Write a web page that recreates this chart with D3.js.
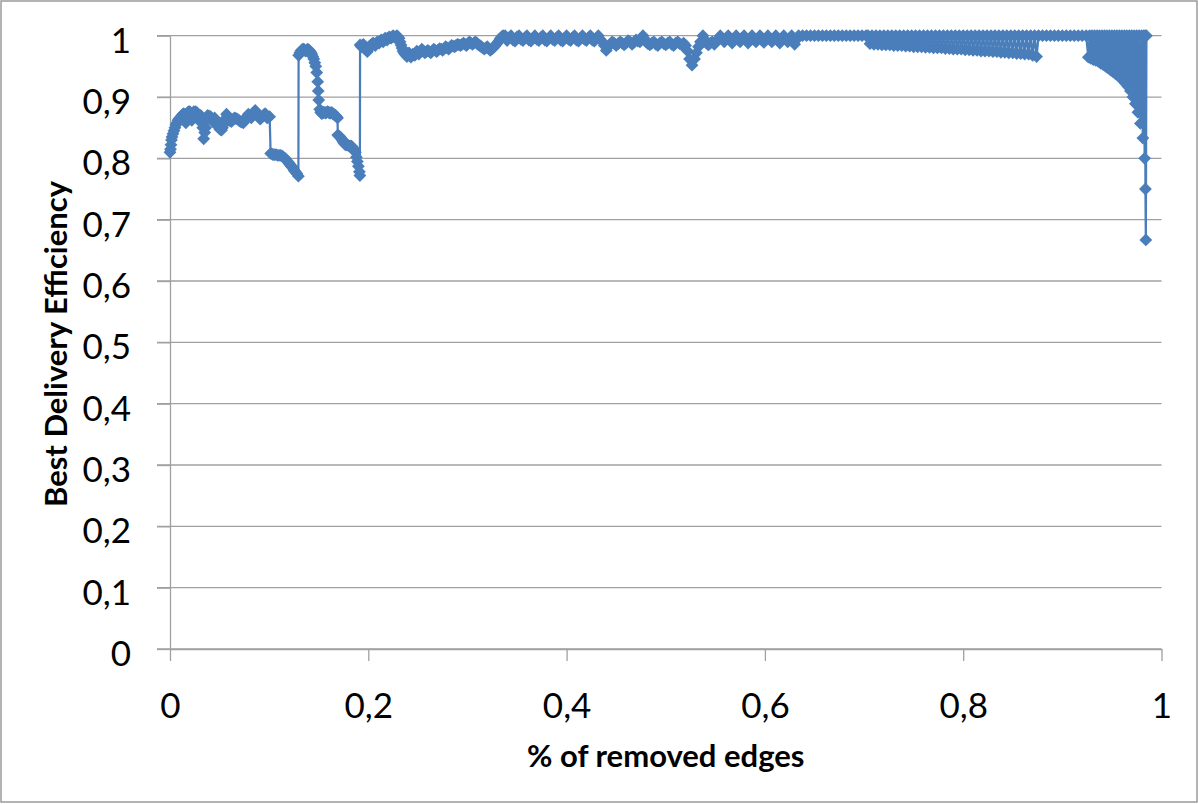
<!DOCTYPE html>
<html>
<head>
<meta charset="utf-8">
<script src="https://cdn.jsdelivr.net/npm/d3@7"></script>
<style>
  body { margin: 0; background: #fff; }
  svg { display: block; font-family: Lato, "Open Sans", sans-serif; }
</style>
</head>
<body>
<svg id="chart" width="1198" height="804"></svg>
<script>
// series, [share of removed edges, best delivery efficiency]
var rampStart = [
  [0, 0.81], [0.0005, 0.815], [0.001, 0.822], [0.0015, 0.83], [0.002, 0.835], [0.003, 0.84],
  [0.004, 0.845], [0.005, 0.85], [0.006, 0.855], [0.007, 0.858], [0.008, 0.862], [0.009, 0.864],
  [0.01, 0.866], [0.011, 0.868], [0.012, 0.87], [0.013, 0.872], [0.014, 0.873], [0.015, 0.865],
  [0.016, 0.858], [0.017, 0.868], [0.018, 0.875], [0.019, 0.876], [0.02, 0.876], [0.021, 0.87],
  [0.022, 0.862], [0.023, 0.87], [0.024, 0.876], [0.0255, 0.876], [0.027, 0.875], [0.028, 0.868],
  [0.029, 0.862], [0.03, 0.866], [0.031, 0.87], [0.032, 0.86], [0.033, 0.85], [0.034, 0.832],
  [0.035, 0.842], [0.036, 0.85], [0.037, 0.862], [0.038, 0.87], [0.0395, 0.869], [0.041, 0.868],
  [0.042, 0.864], [0.043, 0.86], [0.044, 0.863], [0.045, 0.866], [0.0465, 0.86], [0.048, 0.855],
  [0.049, 0.851], [0.05, 0.848], [0.051, 0.847], [0.052, 0.846], [0.053, 0.85], [0.054, 0.855],
  [0.0555, 0.864], [0.057, 0.872], [0.0585, 0.867], [0.06, 0.862], [0.061, 0.861], [0.062, 0.86],
  [0.0635, 0.863], [0.065, 0.866], [0.0665, 0.865], [0.068, 0.864], [0.0695, 0.862], [0.071, 0.86],
  [0.0725, 0.859], [0.074, 0.858], [0.0755, 0.862], [0.077, 0.865], [0.078, 0.869], [0.079, 0.872],
  [0.0805, 0.869], [0.082, 0.866], [0.083, 0.87], [0.084, 0.874], [0.085, 0.876], [0.086, 0.878],
  [0.087, 0.874], [0.088, 0.87], [0.0895, 0.867], [0.091, 0.864], [0.092, 0.866], [0.093, 0.868],
  [0.0945, 0.871], [0.096, 0.873], [0.097, 0.87], [0.098, 0.866], [0.099, 0.867], [0.1005, 0.868]
];
var lowStep = [
  [0.1015, 0.808], [0.103, 0.807], [0.104, 0.806], [0.1055, 0.806], [0.107, 0.806], [0.1085, 0.805],
  [0.11, 0.805], [0.1115, 0.805], [0.113, 0.804], [0.1145, 0.802], [0.116, 0.8], [0.117, 0.798],
  [0.118, 0.796], [0.119, 0.794], [0.12, 0.792], [0.121, 0.79], [0.122, 0.788], [0.123, 0.786],
  [0.124, 0.784], [0.125, 0.781], [0.126, 0.779], [0.127, 0.777], [0.128, 0.775], [0.1295, 0.771]
];
var spikeBlock = [
  [0.1297, 0.968], [0.131, 0.972], [0.132, 0.975], [0.133, 0.977], [0.134, 0.978], [0.135, 0.978],
  [0.136, 0.976], [0.137, 0.975], [0.138, 0.977], [0.139, 0.978], [0.14, 0.977], [0.141, 0.975],
  [0.142, 0.973], [0.143, 0.97], [0.144, 0.966], [0.145, 0.962], [0.146, 0.956], [0.147, 0.95],
  [0.148, 0.94], [0.149, 0.925], [0.1495, 0.91], [0.15, 0.895], [0.151, 0.88], [0.152, 0.875],
  [0.153, 0.873], [0.154, 0.874], [0.155, 0.875], [0.156, 0.875], [0.157, 0.874], [0.158, 0.875],
  [0.159, 0.876], [0.16, 0.875], [0.161, 0.874], [0.162, 0.874], [0.163, 0.875], [0.164, 0.873],
  [0.165, 0.872], [0.166, 0.871], [0.167, 0.87], [0.168, 0.868], [0.169, 0.866], [0.1692, 0.838],
  [0.17, 0.837], [0.171, 0.836], [0.172, 0.834], [0.173, 0.832], [0.174, 0.829], [0.175, 0.826],
  [0.176, 0.824], [0.177, 0.822], [0.178, 0.822], [0.179, 0.822], [0.18, 0.821], [0.181, 0.82],
  [0.182, 0.82], [0.183, 0.82], [0.184, 0.818], [0.185, 0.816], [0.186, 0.813], [0.187, 0.81],
  [0.188, 0.802], [0.189, 0.795], [0.19, 0.787], [0.191, 0.778], [0.1915, 0.772]
];
var climb = [
  [0.1917, 0.985], [0.193, 0.982], [0.194, 0.984], [0.195, 0.986], [0.196, 0.983], [0.197, 0.98],
  [0.198, 0.977], [0.199, 0.974], [0.2, 0.978], [0.201, 0.982], [0.202, 0.984], [0.203, 0.985],
  [0.204, 0.987], [0.205, 0.988], [0.206, 0.986], [0.207, 0.984], [0.208, 0.987], [0.209, 0.99],
  [0.21, 0.989], [0.211, 0.988], [0.212, 0.991], [0.213, 0.993], [0.214, 0.992], [0.215, 0.99],
  [0.216, 0.993], [0.217, 0.996], [0.218, 0.995], [0.219, 0.993], [0.22, 0.996], [0.221, 0.998],
  [0.222, 0.997], [0.223, 0.996], [0.224, 0.998], [0.225, 1], [0.226, 0.998], [0.227, 0.997],
  [0.228, 0.999], [0.229, 1], [0.23, 0.998], [0.231, 0.996], [0.232, 0.99], [0.233, 0.985],
  [0.234, 0.98], [0.235, 0.975], [0.236, 0.972], [0.237, 0.97], [0.238, 0.968], [0.239, 0.966],
  [0.24, 0.969], [0.241, 0.972], [0.242, 0.968], [0.243, 0.965], [0.244, 0.968], [0.245, 0.97],
  [0.246, 0.969], [0.247, 0.968], [0.248, 0.972], [0.249, 0.975], [0.25, 0.972], [0.251, 0.97],
  [0.2525, 0.974], [0.254, 0.978], [0.2555, 0.975], [0.257, 0.972], [0.2585, 0.974], [0.26, 0.976],
  [0.2615, 0.974], [0.263, 0.972], [0.2645, 0.975], [0.266, 0.978], [0.2675, 0.976], [0.269, 0.974],
  [0.2705, 0.977], [0.272, 0.979], [0.2735, 0.978], [0.275, 0.976], [0.2765, 0.979], [0.278, 0.982],
  [0.2795, 0.98], [0.281, 0.978], [0.2825, 0.981], [0.284, 0.984], [0.2855, 0.983], [0.287, 0.982],
  [0.2885, 0.984], [0.29, 0.986], [0.2915, 0.985], [0.293, 0.984], [0.2945, 0.986], [0.296, 0.988],
  [0.2975, 0.986], [0.299, 0.984], [0.3005, 0.987], [0.302, 0.99], [0.3035, 0.988], [0.305, 0.986],
  [0.3065, 0.988], [0.308, 0.99], [0.3095, 0.988], [0.311, 0.985], [0.3125, 0.984], [0.314, 0.982],
  [0.3155, 0.98], [0.317, 0.978], [0.3185, 0.98], [0.32, 0.982], [0.3215, 0.979], [0.323, 0.976],
  [0.3245, 0.978], [0.326, 0.98], [0.3275, 0.983], [0.329, 0.986], [0.3305, 0.989], [0.332, 0.992],
  [0.333, 0.995], [0.334, 0.997], [0.335, 0.999], [0.336, 1]
];
var topA = [
  [0.338, 1], [0.34, 0.992], [0.342, 0.997], [0.344, 1], [0.346, 0.993], [0.348, 0.991],
  [0.35, 0.998], [0.352, 1], [0.354, 0.994], [0.356, 0.992], [0.358, 0.997], [0.36, 1],
  [0.362, 0.993], [0.364, 0.991], [0.366, 0.996], [0.368, 1], [0.37, 0.994], [0.372, 0.992],
  [0.374, 0.997], [0.376, 1], [0.378, 0.993], [0.38, 0.991], [0.382, 0.996], [0.384, 1],
  [0.386, 0.994], [0.388, 0.992], [0.39, 0.997], [0.392, 1], [0.394, 0.993], [0.396, 0.991],
  [0.398, 0.996], [0.4, 1], [0.402, 0.994], [0.404, 0.992], [0.406, 0.997], [0.408, 1],
  [0.41, 0.993], [0.412, 0.991], [0.414, 0.996], [0.416, 1], [0.418, 0.994], [0.42, 0.992],
  [0.422, 0.997], [0.424, 1], [0.426, 0.993], [0.428, 0.991], [0.43, 0.996], [0.432, 1],
  [0.434, 0.994], [0.436, 0.99], [0.438, 0.984], [0.44, 0.976]
];
var midBand = [
  [0.442, 0.982], [0.444, 0.986], [0.446, 0.99], [0.448, 0.988], [0.45, 0.984], [0.452, 0.987],
  [0.454, 0.99], [0.456, 0.988], [0.458, 0.985], [0.46, 0.988], [0.462, 0.992], [0.464, 0.99],
  [0.466, 0.986], [0.468, 0.989], [0.47, 0.993], [0.472, 0.991], [0.474, 0.99], [0.476, 0.996],
  [0.477, 1], [0.478, 0.996], [0.48, 0.99], [0.482, 0.987], [0.484, 0.985], [0.486, 0.988],
  [0.488, 0.99], [0.49, 0.986], [0.492, 0.984], [0.494, 0.988], [0.496, 0.99], [0.498, 0.987],
  [0.5, 0.985], [0.502, 0.988], [0.504, 0.99], [0.506, 0.986], [0.508, 0.984], [0.51, 0.988],
  [0.512, 0.99], [0.514, 0.987], [0.516, 0.985], [0.518, 0.988], [0.52, 0.984], [0.522, 0.975],
  [0.524, 0.962], [0.5265, 0.952], [0.529, 0.962], [0.531, 0.972], [0.533, 0.982], [0.535, 0.99],
  [0.5375, 1], [0.539, 0.994], [0.541, 0.988], [0.543, 0.985], [0.545, 0.988], [0.547, 0.99],
  [0.549, 0.986], [0.551, 0.99], [0.553, 0.995], [0.555, 1]
];
var topB = [
  [0.557, 0.995], [0.559, 0.99], [0.561, 0.996], [0.563, 1], [0.565, 0.993], [0.567, 0.988],
  [0.569, 0.995], [0.571, 1], [0.573, 0.994], [0.575, 0.99], [0.577, 0.996], [0.579, 1],
  [0.581, 0.993], [0.583, 0.988], [0.585, 0.995], [0.587, 1], [0.589, 0.994], [0.591, 0.99],
  [0.593, 0.996], [0.595, 1], [0.597, 0.993], [0.599, 0.989], [0.601, 0.995], [0.603, 1],
  [0.605, 0.994], [0.607, 0.99], [0.609, 0.996], [0.611, 1], [0.613, 0.993], [0.615, 0.988],
  [0.617, 0.995], [0.619, 1], [0.621, 0.994], [0.623, 0.99], [0.625, 0.996], [0.627, 1],
  [0.629, 0.992], [0.63, 0.986], [0.632, 0.994], [0.634, 1], [0.638, 1], [0.642, 1],
  [0.646, 1], [0.65, 1], [0.654, 1], [0.658, 1], [0.662, 1], [0.666, 1], [0.67, 1],
  [0.674, 1], [0.678, 1], [0.682, 1], [0.686, 1], [0.69, 1], [0.694, 1], [0.698, 1],
  [0.702, 1], [0.704, 1]
];
var comb = [
  [0.706, 0.987], [0.708, 1], [0.71, 0.986], [0.712, 1], [0.714, 0.986], [0.716, 1],
  [0.718, 0.985], [0.72, 1], [0.722, 0.985], [0.724, 1], [0.726, 0.985], [0.728, 1],
  [0.73, 0.984], [0.732, 1], [0.734, 0.984], [0.736, 1], [0.738, 0.984], [0.74, 1],
  [0.742, 0.983], [0.744, 1], [0.746, 0.983], [0.748, 1], [0.75, 0.982], [0.752, 1],
  [0.754, 0.982], [0.756, 1], [0.758, 0.982], [0.76, 1], [0.762, 0.981], [0.764, 1],
  [0.766, 0.981], [0.768, 1], [0.77, 0.98], [0.772, 1], [0.774, 0.98], [0.776, 1],
  [0.778, 0.98], [0.78, 1], [0.782, 0.979], [0.784, 1], [0.786, 0.979], [0.788, 1],
  [0.79, 0.978], [0.792, 1], [0.794, 0.978], [0.796, 1], [0.798, 0.978], [0.8, 1],
  [0.802, 0.977], [0.804, 1], [0.806, 0.977], [0.808, 1], [0.81, 0.976], [0.812, 1],
  [0.814, 0.976], [0.816, 1], [0.818, 0.975], [0.82, 1], [0.822, 0.975], [0.824, 1],
  [0.826, 0.975], [0.828, 1], [0.83, 0.974], [0.832, 1], [0.834, 0.974], [0.836, 1],
  [0.838, 0.973], [0.84, 1], [0.842, 0.973], [0.844, 1], [0.846, 0.972], [0.848, 1],
  [0.85, 0.972], [0.852, 1], [0.854, 0.971], [0.856, 1], [0.858, 0.971], [0.86, 1],
  [0.862, 0.97], [0.864, 1], [0.866, 0.97], [0.868, 1], [0.87, 0.968], [0.872, 1],
  [0.874, 0.966], [0.876, 1]
];
var topC = [
  [0.88, 1], [0.884, 1], [0.888, 1], [0.892, 1], [0.896, 1], [0.9, 1], [0.904, 1],
  [0.908, 1], [0.912, 1], [0.916, 1], [0.92, 1], [0.924, 1]
];
var tail = [
  [0.9262, 0.965], [0.9275, 1], [0.9287, 0.963], [0.93, 1], [0.9312, 0.961], [0.9325, 1],
  [0.9337, 0.96], [0.935, 1], [0.9362, 0.958], [0.9375, 1], [0.9387, 0.955], [0.94, 1],
  [0.9412, 0.953], [0.9425, 1], [0.9437, 0.95], [0.945, 1], [0.9462, 0.947], [0.9475, 1],
  [0.9487, 0.944], [0.95, 1], [0.9512, 0.941], [0.9525, 1], [0.9537, 0.938], [0.955, 1],
  [0.9562, 0.935], [0.9575, 1], [0.9587, 0.931], [0.96, 1], [0.9612, 0.927], [0.9625, 1],
  [0.9637, 0.922], [0.965, 1], [0.9662, 0.917], [0.9675, 1], [0.9687, 0.91], [0.97, 1],
  [0.9712, 0.9], [0.9725, 1], [0.9737, 0.889], [0.975, 1], [0.9762, 0.875], [0.9775, 1],
  [0.9787, 0.857], [0.98, 1], [0.9812, 0.833], [0.9822, 1], [0.983, 0.8], [0.9835, 1],
  [0.9838, 0.75], [0.9842, 0.667], [0.9848, 1]
];

var xTicks = [0, 0.2, 0.4, 0.6, 0.8, 1];
var yTicks = [0, 0.1, 0.2, 0.3, 0.4, 0.5, 0.6, 0.7, 0.8, 0.9, 1];
var xTitle = "% of removed edges";
var yTitle = "Best Delivery Efficiency";

var points = [].concat(rampStart, lowStep, spikeBlock, climb, topA, midBand, topB, comb, topC, tail);

var plot = { left: 170, right: 1161.5, top: 35.7, bottom: 649 };
var blue = "#4a7ebb", grey = "#a0a0a0";

var x = d3.scaleLinear().domain([0, 1]).range([plot.left, plot.right]);
var y = d3.scaleLinear().domain([0, 1]).range([plot.bottom, plot.top]);

var fmt = d3.formatLocale({ decimal: ",", thousands: ".", grouping: [3], currency: ["", ""] }).format("~g");

var svg = d3.select("#chart");

svg.append("rect")
  .attr("x", 1).attr("y", 1).attr("width", 1196).attr("height", 801)
  .attr("fill", "#fff").attr("stroke", "#9a9a9a").attr("stroke-width", 1.5);

// horizontal gridlines, running out past the axis like the tick marks
svg.append("g")
  .selectAll("line")
  .data(yTicks)
  .enter().append("line")
  .attr("x1", plot.left - 13).attr("x2", plot.right)
  .attr("y1", function (d) { return y(d); })
  .attr("y2", function (d) { return y(d); })
  .attr("stroke", grey).attr("stroke-width", 1.3);

var yAxis = svg.append("g")
  .attr("transform", "translate(" + plot.left + ",0)")
  .call(d3.axisLeft(y).tickValues(yTicks).tickFormat(fmt).tickSizeInner(13).tickSizeOuter(0).tickPadding(26));

var xAxis = svg.append("g")
  .attr("transform", "translate(0," + plot.bottom + ")")
  .call(d3.axisBottom(x).tickValues(xTicks).tickFormat(fmt).tickSizeInner(12).tickSizeOuter(0));

[yAxis, xAxis].forEach(function (a) {
  a.selectAll("path, line").attr("stroke", grey).attr("stroke-width", 1.3);
  a.selectAll("text").attr("fill", "#000").attr("font-size", 35).attr("font-family", "Lato, 'Open Sans', sans-serif");
});
yAxis.selectAll("text").attr("dy", "0.47em");
xAxis.selectAll("text").attr("y", 69).attr("dy", 0);

var line = d3.line()
  .x(function (d) { return x(d[0]); })
  .y(function (d) { return y(d[1]); });

svg.append("path")
  .datum(points)
  .attr("d", line)
  .attr("fill", "none")
  .attr("stroke", blue)
  .attr("stroke-width", 2.25)
  .attr("stroke-linejoin", "round");

var diamond = d3.symbol().type(d3.symbolSquare).size(82);
svg.append("g")
  .selectAll("path")
  .data(points)
  .enter().append("path")
  .attr("d", diamond)
  .attr("transform", function (d) { return "translate(" + x(d[0]) + "," + y(d[1]) + ") rotate(45)"; })
  .attr("fill", blue);

svg.append("text")
  .attr("x", (plot.left + plot.right) / 2)
  .attr("y", 767)
  .attr("text-anchor", "middle")
  .attr("font-size", 31)
  .attr("font-weight", "bold")
  .text(xTitle);

svg.append("text")
  .attr("transform", "translate(67,344) rotate(-90)")
  .attr("text-anchor", "middle")
  .attr("font-size", 31)
  .attr("font-weight", "bold")
  .text(yTitle);
</script>
</body>
</html>
